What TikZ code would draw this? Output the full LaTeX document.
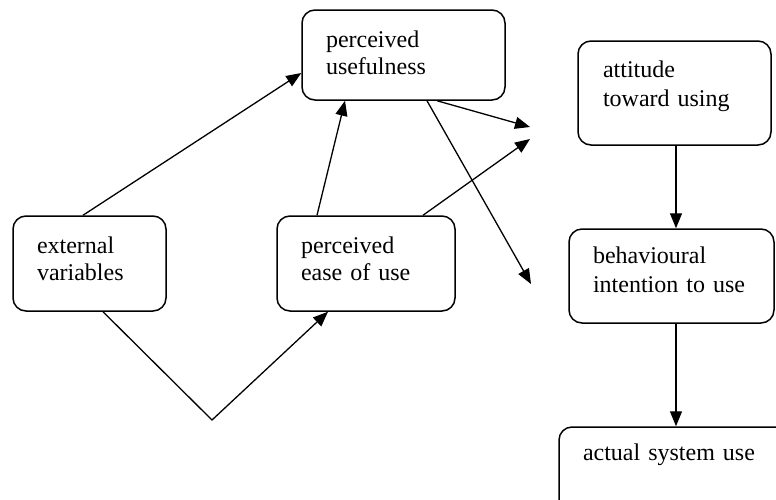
\documentclass[tikz,border=0pt]{standalone}
\usepackage{fontspec}
\setmainfont{Liberation Serif}
\usetikzlibrary{arrows.meta}

\tikzset{
    box/.style={draw, line width=1.5pt, rounded corners=13pt, align=left,
        inner xsep=24pt, inner ysep=0pt, text height=16pt, text depth=37pt,
        font=\fontsize{24}{27}\selectfont},
    arr/.style={line width=1.3pt, -{Triangle[length=15pt,width=12pt]}}
}

\begin{document}
\begin{tikzpicture}[x=1pt, y=-1pt]
    \path[use as bounding box, clip] (0,0) rectangle (776,499);

    % Блоки
    \node[box, text width=105pt, minimum height=95pt] (ext) at (89.5,263.5) {external\\variables};
    \node[box, text width=130pt, minimum height=95pt] (peou) at (366,263.5) {perceived\\ease of use};
    \node[box, text width=155pt, minimum height=90pt, text depth=32pt] (pu) at (403.5,55) {perceived\\usefulness};
    \node[box, text width=143pt, minimum height=104pt, inner xsep=25pt, text depth=48pt,
        font=\fontsize{24}{29}\selectfont] (att) at (674.5,93) {attitude\\toward using};
    \node[box, text width=157pt, minimum height=94pt, text depth=42pt,
        font=\fontsize{24}{29}\selectfont] (bi) at (671.5,276) {behavioural\\intention to use};
    \node[box, text width=193pt, minimum height=103pt, text depth=53pt] (asu) at (679.5,478.5) {actual system use};

    % Свободные концы стрелок
    \coordinate (c1) at (530,127);
    \coordinate (c2) at (530,139);
    \coordinate (c3) at (531,284);
    \coordinate (v) at (212,420);

    % Стрелки
    \draw[arr] ([xshift=-6.5pt]ext.north) -- ([yshift=-18pt]pu.west);
    \draw[arr] ([xshift=13.5pt]ext.south) -- (v) -- ([xshift=-38pt]peou.south);
    \draw[arr] ([xshift=-49pt]peou.north) -- ([xshift=-58.5pt]pu.south);
    \draw[arr] ([xshift=57pt]peou.north) -- (c2);
    \draw[arr] ([xshift=33.5pt]pu.south) -- (c1);
    \draw[arr] ([xshift=23.5pt]pu.south) -- (c3);
    \draw[arr] ([xshift=1.5pt]att.south) -- ([xshift=1.5pt]att.south |- bi.north);
    \draw[arr] ([xshift=1.5pt]att.south |- bi.south) -- ([xshift=1.5pt]att.south |- asu.north);
\end{tikzpicture}
\end{document}
